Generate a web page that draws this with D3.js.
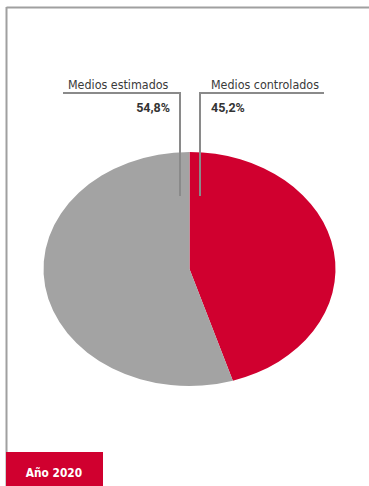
<!DOCTYPE html>
<html>
<head>
<meta charset="utf-8">
<script src="https://cdn.jsdelivr.net/npm/d3@7"></script>
<style>
  html, body { margin: 0; padding: 0; background: #fff; }
  svg { display: block; }
</style>
</head>
<body>
<div id="chart"></div>
<script>
// Share of media, 2020
const categories = ["Medios controlados", "Medios estimados"];
const values = [45.2, 54.8];
const colors = ["#d0002f", "#a3a3a3"];
const yearLabel = "Año 2020";

const W = 369, H = 486;
const svg = d3.select("#chart").append("svg")
  .attr("width", W).attr("height", H);

const font = "'DejaVu Sans Condensed', 'DejaVu Sans', sans-serif";
const fontNum = "Roboto, 'DejaVu Sans Condensed', sans-serif";

// Frame (top and left rules)
svg.append("line").attr("x1", 6.5).attr("x2", W).attr("y1", 7.5).attr("y2", 7.5)
  .attr("stroke", "#a0a0a0").attr("stroke-width", 2);
svg.append("line").attr("x1", 6.5).attr("x2", 6.5).attr("y1", 7).attr("y2", H)
  .attr("stroke", "#a0a0a0").attr("stroke-width", 2);

// Elliptical pie: circle arc scaled horizontally
const cx = 189.5, cy = 269, rx = 146, ry = 117;
const pie = d3.pie().sort(null).value(d => d.v);
const arc = d3.arc().innerRadius(0).outerRadius(ry);
const data = categories.map((c, i) => ({ c, v: values[i], col: colors[i] }));

svg.append("g")
  .attr("transform", `translate(${cx},${cy}) scale(${rx / ry},1)`)
  .selectAll("path")
  .data(pie(data))
  .join("path")
  .attr("d", arc)
  .attr("fill", d => d.data.col);

const fmt = v => d3.format(".1f")(v).replace(".", ",") + "%";

// Leader lines and labels
const lineColor = "#8a8a8a";
const leaders = [
  { i: 1, vx: 180, hx: 63, lx: 68, tx: 170, anchor: "end" },
  { i: 0, vx: 200, hx: 324, lx: 211, tx: 211, anchor: "start" }
];
const ly = 93, lyEnd = 196;
leaders.forEach(l => {
  svg.append("path")
    .attr("d", `M${l.hx},${ly}H${l.vx}V${lyEnd}`)
    .attr("fill", "none").attr("stroke", lineColor).attr("stroke-width", 2);
  svg.append("text")
    .attr("x", l.lx).attr("y", 88.5)
    .attr("font-family", font).attr("font-size", 12.4)
    .attr("fill", "#3a3a3a")
    .text(categories[l.i]);
  svg.append("text")
    .attr("x", l.tx).attr("y", 111.5)
    .attr("text-anchor", l.anchor)
    .attr("font-family", fontNum).attr("font-size", 12.5).attr("font-weight", "bold")
    .attr("fill", "#333")
    .text(fmt(values[l.i]));
});

// Year tab
svg.append("rect").attr("x", 6).attr("y", 452).attr("width", 97).attr("height", H - 452)
  .attr("fill", "#d0002f");
svg.append("text").attr("x", 54).attr("y", 477)
  .attr("text-anchor", "middle")
  .attr("font-family", font).attr("font-size", 11.8).attr("font-weight", "bold")
  .attr("fill", "#fff")
  .text(yearLabel);
</script>
</body>
</html>
